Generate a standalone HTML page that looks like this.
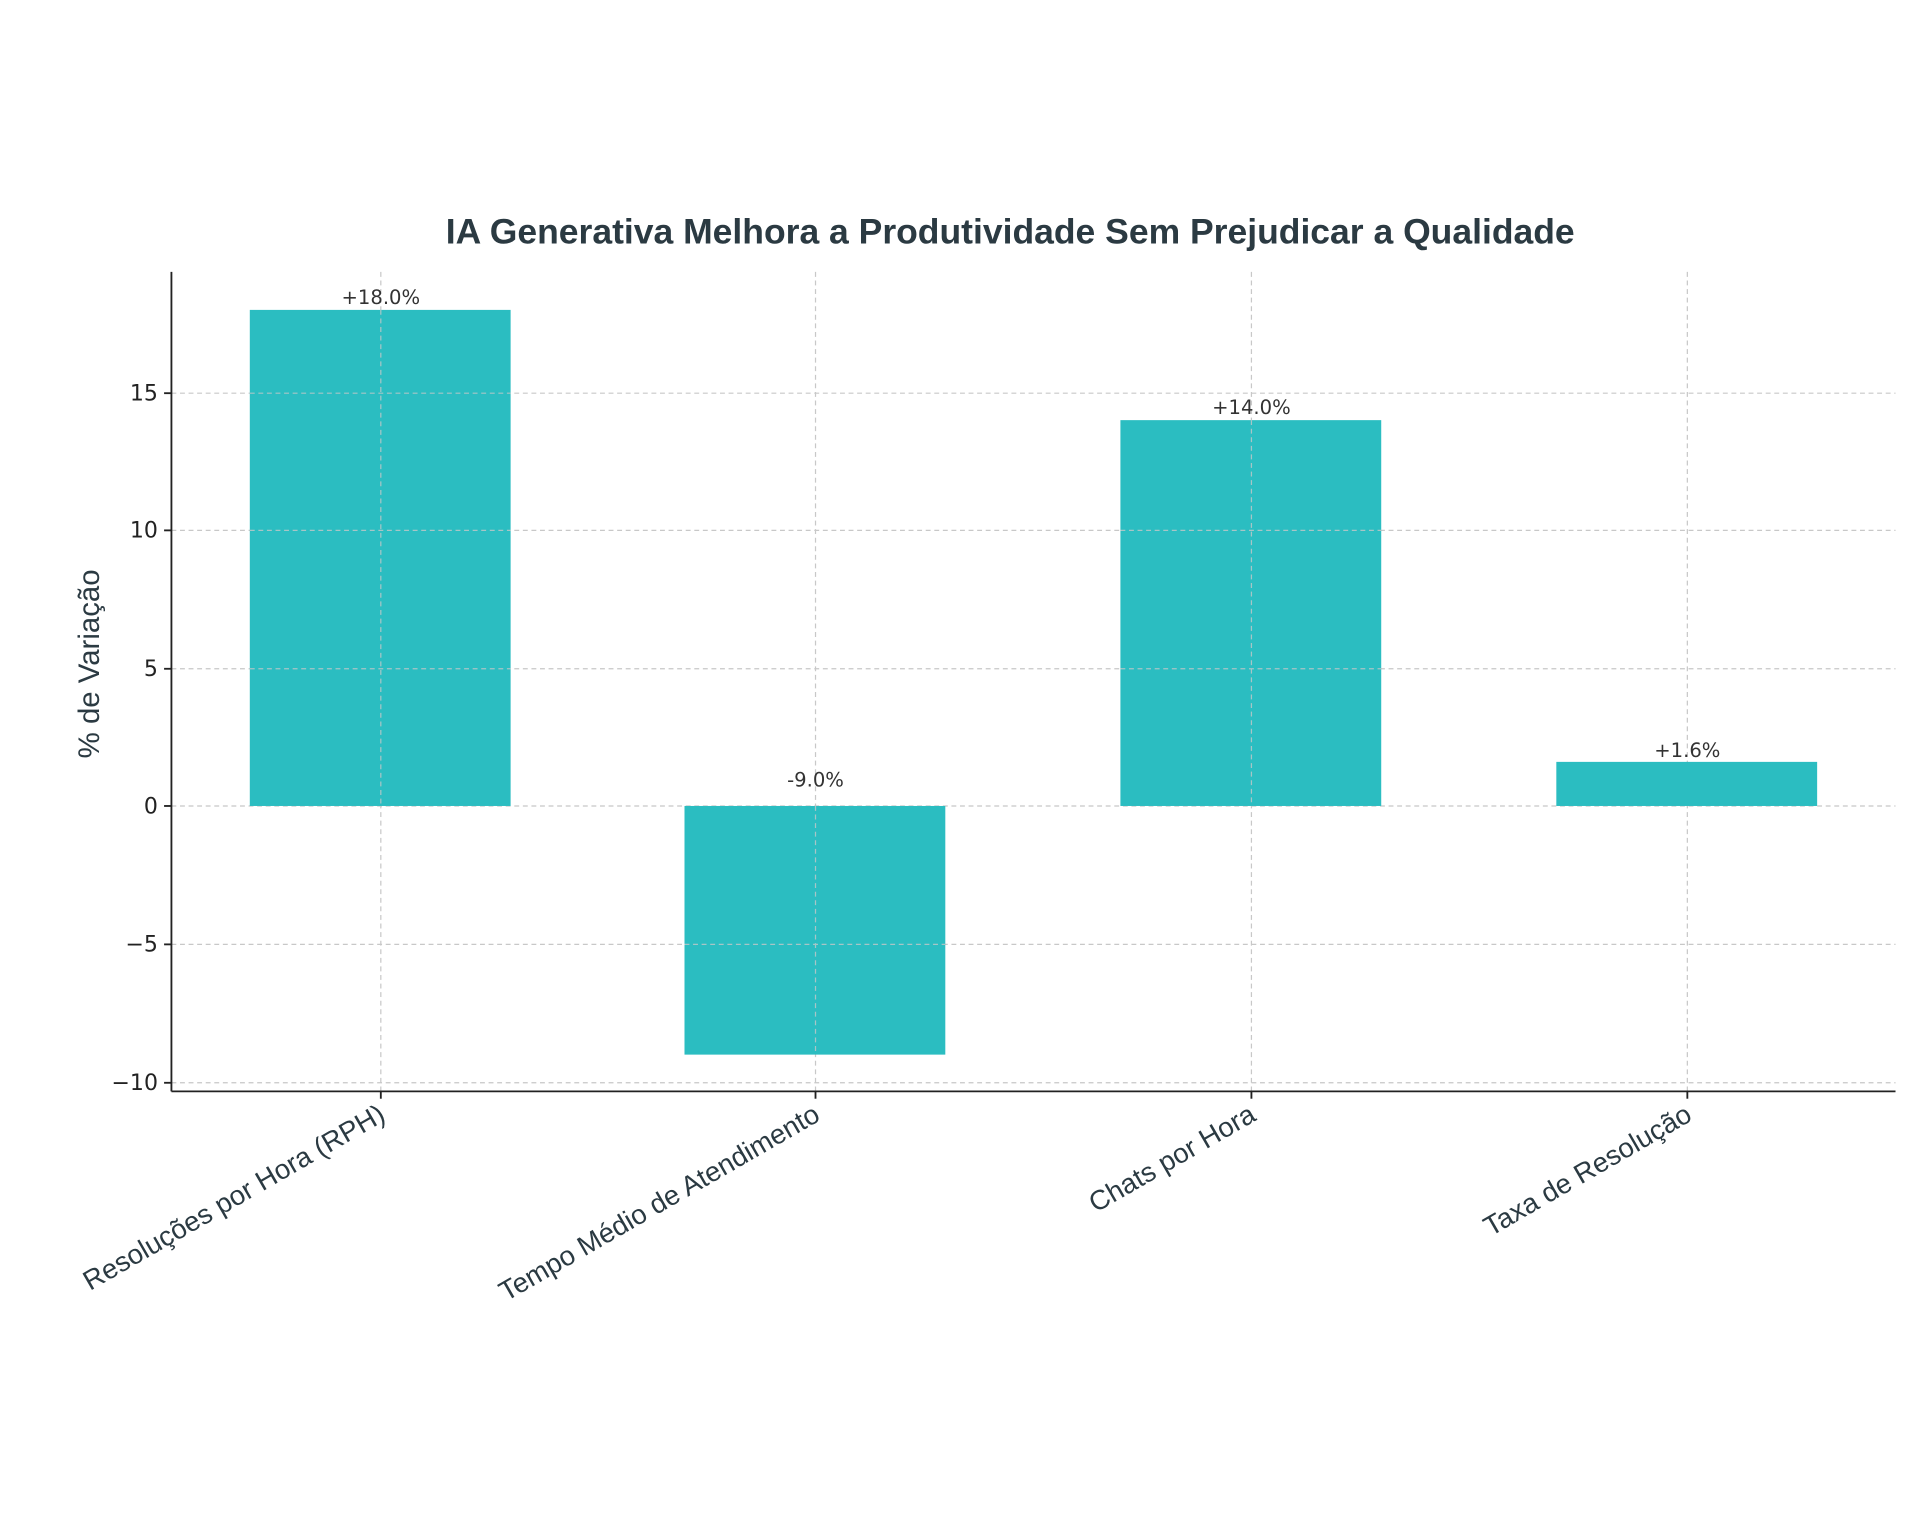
<!DOCTYPE html>
<html><head><meta charset="utf-8"><style>html,body{margin:0;padding:0;background:#fff}svg{display:block}</style></head>
<body>
<svg width="1920" height="1536" viewBox="0 0 1568 1254" preserveAspectRatio="none" xmlns="http://www.w3.org/2000/svg" font-family="'Liberation Sans', 'DejaVu Sans', sans-serif">
<rect width="1568" height="1254" fill="#fff"/>
<text x="825" y="199" text-anchor="middle" font-size="29" font-weight="bold" fill="#2b3a42">IA Generativa Melhora a Produtividade Sem Prejudicar a Qualidade</text>
<g stroke="#c8c8c8" stroke-width="1" stroke-dasharray="4,3">
<line x1="140" x2="1548" y1="884" y2="884"/>
<line x1="140" x2="1548" y1="771" y2="771"/>
<line x1="140" x2="1548" y1="658" y2="658"/>
<line x1="140" x2="1548" y1="546" y2="546"/>
<line x1="140" x2="1548" y1="433" y2="433"/>
<line x1="140" x2="1548" y1="321" y2="321"/>
<line x1="311" x2="311" y1="222" y2="891"/>
<line x1="666" x2="666" y1="222" y2="891"/>
<line x1="1022" x2="1022" y1="222" y2="891"/>
<line x1="1378" x2="1378" y1="222" y2="891"/>
</g>
<g fill="#2bbdc1">
<rect x="204" y="253" width="213" height="405"/>
<rect x="559" y="658" width="213" height="203"/>
<rect x="915" y="343" width="213" height="315"/>
<rect x="1271" y="622" width="213" height="36"/>
</g>
<g stroke="#c8c8c8" stroke-width="1" stroke-dasharray="4,3" opacity="0.8">
<line x1="311" x2="311" y1="253" y2="658"/>
<line x1="666" x2="666" y1="658" y2="861"/>
<line x1="1022" x2="1022" y1="343" y2="658"/>
<line x1="204" x2="417" y1="321" y2="321"/><line x1="204" x2="417" y1="433" y2="433"/><line x1="204" x2="417" y1="546" y2="546"/>
<line x1="915" x2="1128" y1="433" y2="433"/><line x1="915" x2="1128" y1="546" y2="546"/>
<line x1="559" x2="772" y1="771" y2="771"/>
</g>
<g stroke="#222" stroke-width="1.5">
<line x1="140" x2="140" y1="222" y2="891"/>
<line x1="140" x2="1548" y1="891" y2="891"/>
<line x1="134" x2="140" y1="884" y2="884"/><line x1="134" x2="140" y1="771" y2="771"/><line x1="134" x2="140" y1="658" y2="658"/>
<line x1="134" x2="140" y1="546" y2="546"/><line x1="134" x2="140" y1="433" y2="433"/><line x1="134" x2="140" y1="321" y2="321"/>
<line x1="311" x2="311" y1="891" y2="897"/><line x1="666" x2="666" y1="891" y2="897"/><line x1="1022" x2="1022" y1="891" y2="897"/><line x1="1378" x2="1378" y1="891" y2="897"/>
</g>
<g font-size="18" fill="#222" text-anchor="end" font-family="'DejaVu Sans', sans-serif">
<text x="129" y="890">−10</text><text x="129" y="777">−5</text><text x="129" y="664">0</text>
<text x="129" y="552">5</text><text x="129" y="439">10</text><text x="129" y="327">15</text>
</g>
<text transform="translate(81,542) rotate(-90)" text-anchor="middle" font-size="24" fill="#2b3a42">% de Variação</text>
<g font-size="16" fill="#333" text-anchor="middle" font-family="'DejaVu Sans', sans-serif">
<text x="311" y="248">+18.0%</text><text x="666" y="642">-9.0%</text>
<text x="1022" y="338">+14.0%</text><text x="1378" y="618">+1.6%</text>
</g>
<g font-size="22.5" fill="#2b3a42" text-anchor="end">
<text transform="translate(316,914) rotate(-30)">Resoluções por Hora (RPH)</text>
<text transform="translate(671,914) rotate(-30)">Tempo Médio de Atendimento</text>
<text transform="translate(1027,914) rotate(-30)">Chats por Hora</text>
<text transform="translate(1383,914) rotate(-30)">Taxa de Resolução</text>
</g>
</svg>
</body></html>
